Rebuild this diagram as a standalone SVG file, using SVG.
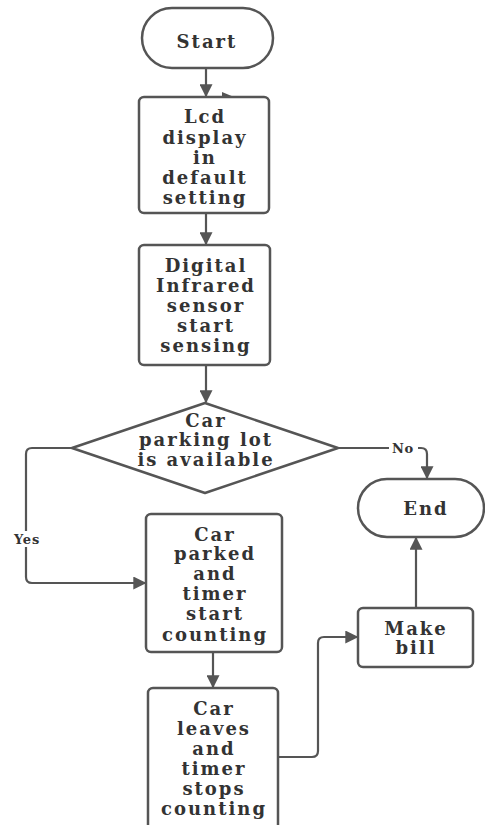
<svg xmlns="http://www.w3.org/2000/svg" width="485" height="825" viewBox="0 0 485 825">
  <style>
    .shape { fill: #ffffff; stroke: #555555; stroke-width: 2.5; }
    .wire { fill: none; stroke: #555555; stroke-width: 2.2; }
    .lbl { font-family: "DejaVu Serif", "Liberation Serif", serif; font-weight: bold; font-size: 18px; letter-spacing: 2px; fill: #333333; text-anchor: middle; dominant-baseline: central; }
    .small { font-family: "DejaVu Serif", "Liberation Serif", serif; font-weight: bold; font-size: 13px; letter-spacing: 0.8px; fill: #333333; text-anchor: middle; dominant-baseline: central; }
  </style>
  <defs>
    <marker id="arrowL" viewBox="0 0 10 10" refX="9" refY="5" markerWidth="13" markerHeight="13" markerUnits="userSpaceOnUse" orient="auto">
      <path d="M0,0 L10,5 L0,10 z" fill="#555555"/>
    </marker>
  </defs>
  <rect width="485" height="825" fill="#ffffff"/>

  <g id="connectors">
    <line class="wire" x1="206" y1="68" x2="206" y2="96" marker-end="url(#arrowL)"/>
    <line class="wire" x1="206" y1="213" x2="206" y2="244" marker-end="url(#arrowL)"/>
    <line class="wire" x1="206" y1="365" x2="206" y2="402" marker-end="url(#arrowL)"/>
    <path class="wire" d="M338,448 H421 Q427,448 427,454 V478" marker-end="url(#arrowL)"/>
    <path class="wire" d="M72,448 H32 Q26,448 26,454 V577 Q26,583 32,583 H145" marker-end="url(#arrowL)"/>
    <line class="wire" x1="213" y1="652" x2="213" y2="687" marker-end="url(#arrowL)"/>
    <path class="wire" d="M278,757 H312 Q318,757 318,751 V643 Q318,637 324,637 H357" marker-end="url(#arrowL)"/>
    <line class="wire" x1="416" y1="608" x2="416" y2="538" marker-end="url(#arrowL)"/>
    <path d="M222,92 L234,97 L222,102 z" fill="#555555"/>
    <rect x="389" y="440" width="29" height="16" fill="#ffffff"/>
    <text class="small" x="403" y="448">No</text>
    <rect x="10" y="531" width="34" height="16" fill="#ffffff"/>
    <text class="small" x="27" y="539">Yes</text>
  </g>

  <g id="start">
    <rect class="shape" x="142" y="8" width="131" height="60" rx="30"/>
    <text class="lbl" x="207" y="41">Start</text>
  </g>

  <g id="lcd">
    <rect class="shape" x="139" y="97" width="130" height="116" rx="5"/>
    <text class="lbl" x="205" y="116">Lcd</text>
    <text class="lbl" x="205" y="137">display</text>
    <text class="lbl" x="205" y="157">in</text>
    <text class="lbl" x="205" y="177">default</text>
    <text class="lbl" x="205" y="197">setting</text>
  </g>

  <g id="sensor">
    <rect class="shape" x="139" y="245" width="131" height="120" rx="5"/>
    <text class="lbl" x="206" y="265">Digital</text>
    <text class="lbl" x="206" y="285">Infrared</text>
    <text class="lbl" x="206" y="305">sensor</text>
    <text class="lbl" x="206" y="325">start</text>
    <text class="lbl" x="206" y="345">sensing</text>
  </g>

  <g id="decision">
    <path class="shape" d="M205,403 L338,448 L205,493 L72,448 z" stroke-linejoin="round"/>
    <text class="lbl" x="206" y="420">Car</text>
    <text class="lbl" x="206" y="439">parking lot</text>
    <text class="lbl" x="206" y="459">is available</text>
  </g>

  <g id="end">
    <rect class="shape" x="358" y="479" width="126" height="58" rx="29"/>
    <text class="lbl" x="426" y="508">End</text>
  </g>

  <g id="parked">
    <rect class="shape" x="146" y="514" width="136" height="138" rx="5"/>
    <text class="lbl" x="215" y="534">Car</text>
    <text class="lbl" x="215" y="553">parked</text>
    <text class="lbl" x="215" y="573">and</text>
    <text class="lbl" x="215" y="593">timer</text>
    <text class="lbl" x="215" y="613">start</text>
    <text class="lbl" x="215" y="634">counting</text>
  </g>

  <g id="leaves">
    <rect class="shape" x="148" y="688" width="130" height="145" rx="5"/>
    <text class="lbl" x="214" y="708">Car</text>
    <text class="lbl" x="214" y="728">leaves</text>
    <text class="lbl" x="214" y="748">and</text>
    <text class="lbl" x="214" y="768">timer</text>
    <text class="lbl" x="214" y="788">stops</text>
    <text class="lbl" x="214" y="808">counting</text>
  </g>

  <g id="bill">
    <rect class="shape" x="358" y="608" width="115" height="59" rx="5"/>
    <text class="lbl" x="416" y="628">Make</text>
    <text class="lbl" x="416" y="647">bill</text>
  </g>
</svg>
